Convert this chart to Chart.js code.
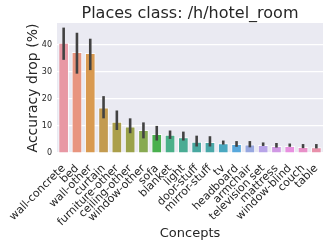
<!DOCTYPE html>
<html>
<head>
<meta charset="utf-8">
<script src="https://cdn.jsdelivr.net/npm/chart.js@4.4.0/dist/chart.umd.min.js"></script>
<style>
  html, body { margin: 0; padding: 0; background: #fff; }
  #wrap { width: 329px; height: 245px; }
</style>
</head>
<body>
<div id="wrap"><canvas id="chart" width="329" height="245"></canvas></div>
<script>
const concepts = ['wall-concrete', 'bed', 'wall-other', 'curtain', 'furniture-other', 'ceiling-other',
  'window-other', 'sofa', 'blanket', 'light', 'door-stuff', 'mirror-stuff', 'tv', 'headboard',
  'armchair', 'television set', 'mattress', 'window-blind', 'couch', 'table'];
const drops = [40.7, 37.3, 36.9, 16.8, 11.5, 9.8, 8.5, 7.0, 6.7, 5.8, 4.2, 4.1, 3.6, 3.3, 3.1, 3.0, 2.6, 2.6, 2.2, 2.1];
const errLow = [34.4, 29.3, 30.6, 12.8, 8.5, 7.3, 5.4, 4.6, 5.2, 4.6, 2.4, 2.4, 3.1, 2.3, 2.1, 2.6, 2.0, 2.3, 1.8, 1.7];
const errHigh = [46.3, 44.4, 42.2, 21.0, 15.7, 12.8, 11.3, 10.0, 8.3, 7.9, 6.4, 6.2, 4.6, 4.4, 4.4, 3.9, 3.7, 3.5, 3.3, 3.3];
const yTicks = [0, 10, 20, 30, 40];
const chartTitle = 'Places class: /h/hotel_room';

const barColors = ['#e898a4', '#e8957f', '#d99a50', '#c39b50', '#ab9f4a', '#9aa24a', '#88aa52',
  '#4ab04e', '#4ab089', '#4aac94', '#48a8a0', '#4aa8a8', '#4aa8c0', '#58a8dc', '#98a8e0',
  '#b8a4e8', '#d098e4', '#e890e0', '#e890c8', '#e890aa'];

const FONT = 'DejaVu Sans';

// draws the confidence interval lines over each bar
const errorBars = {
  id: 'errorBars',
  afterDatasetsDraw(chart) {
    const ctx = chart.ctx;
    const y = chart.scales.y;
    const meta = chart.getDatasetMeta(0);
    ctx.save();
    ctx.strokeStyle = '#424242';
    ctx.lineWidth = 2.6;
    meta.data.forEach((bar, i) => {
      ctx.beginPath();
      ctx.moveTo(bar.x, y.getPixelForValue(errLow[i]));
      ctx.lineTo(bar.x, y.getPixelForValue(errHigh[i]));
      ctx.stroke();
    });
    ctx.restore();
  }
};

// seaborn style grey plot background, title centred over the axes like matplotlib
const plotBg = {
  id: 'plotBg',
  beforeDraw(chart) {
    const a = chart.chartArea;
    const ctx = chart.ctx;
    ctx.save();
    ctx.fillStyle = '#eaeaf2';
    ctx.fillRect(a.left, a.top, a.right - a.left, a.bottom - a.top);
    ctx.fillStyle = '#262626';
    ctx.font = '16px "' + FONT + '"';
    ctx.textAlign = 'center';
    ctx.textBaseline = 'alphabetic';
    ctx.fillText(chartTitle, (a.left + a.right) / 2, a.top - 5);
    ctx.restore();
  }
};

new Chart(document.getElementById('chart'), {
  type: 'bar',
  data: {
    labels: concepts,
    datasets: [{
      data: drops,
      backgroundColor: barColors,
      borderColor: 'rgba(255,255,255,0.8)',
      borderWidth: 1,
      barPercentage: 0.8,
      categoryPercentage: 1.0
    }]
  },
  options: {
    responsive: false,
    animation: false,
    layout: { padding: { left: 25, right: 6, top: 23, bottom: 0 } },
    plugins: {
      legend: { display: false },
      tooltip: { enabled: false },
      title: { display: false }
    },
    scales: {
      x: {
        grid: { display: false },
        border: { display: false },
        ticks: {
          color: '#262626',
          font: { family: FONT, size: 11 },
          minRotation: 45,
          maxRotation: 45,
          autoSkip: false,
          padding: 1
        },
        title: {
          display: true,
          text: 'Concepts',
          color: '#262626',
          font: { family: FONT, size: 13 },
          padding: { top: 0, bottom: 4 }
        },
        afterFit(scale) { scale.height = 92; }
      },
      y: {
        min: 0,
        max: 48,
        afterBuildTicks(scale) { scale.ticks = yTicks.map(v => ({ value: v })); },
        grid: { color: '#ffffff', lineWidth: 1.2, drawTicks: false },
        border: { display: false },
        ticks: {
          color: '#262626',
          font: { family: FONT, size: 8 },
          padding: 5
        },
        title: {
          display: true,
          text: 'Accuracy drop (%)',
          color: '#262626',
          font: { family: FONT, size: 14 },
          padding: { top: 0, bottom: 1 }
        },
        afterFit(scale) { scale.width = 32; }
      }
    }
  },
  plugins: [plotBg, errorBars]
});
</script>
</body>
</html>
